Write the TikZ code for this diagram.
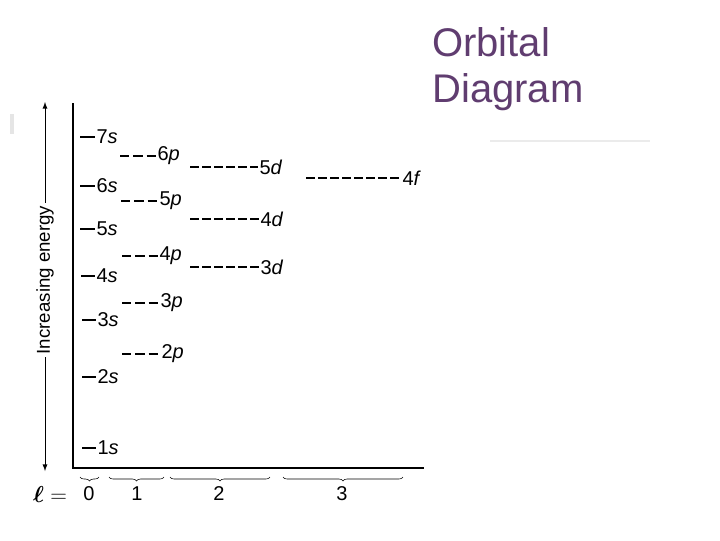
\documentclass[tikz,border=0pt]{standalone}
\usepackage{fontspec}
\setmainfont{Liberation Sans}
\usepackage{amsmath}
\usepackage{tikz}
\usetikzlibrary{arrows,decorations.pathreplacing}
\usepackage{xcolor}
\definecolor{titlepurple}{RGB}{96,61,112}

\begin{document}
\begin{tikzpicture}[x=0.75pt, y=-0.75pt, lvl/.style={anchor=west, inner sep=1pt, font=\fontsize{15}{17}\selectfont}, sline/.style={line width=1.1pt}, pline/.style={line width=1.1pt, dash pattern=on 7pt off 3pt}, dline/.style={line width=1.1pt, dash pattern=on 6.6pt off 2.4pt}, lnum/.style={font=\fontsize{15}{17}\selectfont}, bracestyle/.style={decorate, decoration={brace, mirror, amplitude=3pt}, thin}]
\useasboundingbox (0,0) rectangle (720,540);
% title
\node[anchor=base west, inner sep=0pt, text=titlepurple, font=\fontsize{30}{34}\selectfont] (t1) at (432,56) {Orbital};
\node[anchor=base west, inner sep=0pt, text=titlepurple, font=\fontsize{30}{34}\selectfont] (t2) at (432,102) {Diagram};
\draw[black!8, line width=2pt] (490,141) -- (650,141);
\draw[black!10, line width=3pt] (12,114) -- (12,134);
% axes
\coordinate (o) at (73,468);
\coordinate (top) at (73,103);
\coordinate (right) at (424,468);
\draw[line width=0.9pt] (top) -- (o) -- (right);
% energy arrow
\node[lnum, rotate=90, inner sep=2pt, font=\fontsize{14}{16}\selectfont] (en) at (45,280) {Increasing energy};
\coordinate (up) at (45,102);
\coordinate (down) at (45,471);
\draw[-latex, line width=0.7pt] (en.east) -- (up);
\draw[-latex, line width=0.7pt] (en.west) -- (down);
% s levels
\node[lvl] (s7) at (95,137) {7\textit{s}};
\node[lvl] (s6) at (95,186) {6\textit{s}};
\node[lvl] (s5) at (95,229) {5\textit{s}};
\node[lvl] (s4) at (95,276) {4\textit{s}};
\node[lvl] (s3) at (96,320) {3\textit{s}};
\node[lvl] (s2) at (96,377) {2\textit{s}};
\node[lvl] (s1) at (96,448) {1\textit{s}};
\coordinate (s7a) at (80,137);
\coordinate (s6a) at (80,186);
\coordinate (s5a) at (80,229);
\coordinate (s4a) at (81,276);
\coordinate (s3a) at (82,320);
\coordinate (s2a) at (82,377);
\coordinate (s1a) at (82,448);
\path[sline]
(s7a) edge (s7.west)
(s6a) edge (s6.west)
(s5a) edge (s5.west)
(s4a) edge (s4.west)
(s3a) edge (s3.west)
(s2a) edge (s2.west)
(s1a) edge (s1.west);
% p levels
\node[lvl] (p6) at (156,156) {6\textit{p}};
\node[lvl] (p5) at (158,201) {5\textit{p}};
\node[lvl] (p4) at (158,256) {4\textit{p}};
\node[lvl] (p3) at (159,303) {3\textit{p}};
\node[lvl] (p2) at (160,354) {2\textit{p}};
\coordinate (p6a) at (120,156);
\coordinate (p5a) at (121,201);
\coordinate (p4a) at (122,256);
\coordinate (p3a) at (122,303);
\coordinate (p2a) at (122,354);
\path[pline]
(p6a) edge (p6.west)
(p5a) edge (p5.west)
(p4a) edge (p4.west)
(p3a) edge (p3.west)
(p2a) edge (p2.west);
% d and f levels
\node[lvl] (d5) at (258,167) {5\textit{d}};
\node[lvl] (d4) at (259,219) {4\textit{d}};
\node[lvl] (d3) at (259,267) {3\textit{d}};
\node[lvl] (f4) at (401,178) {4\textit{f}};
\coordinate (d5a) at (190,167);
\coordinate (d4a) at (190,219);
\coordinate (d3a) at (190,267);
\coordinate (f4a) at (306,178);
\path[dline]
(d5a) edge (d5.west)
(d4a) edge (d4.west)
(d3a) edge (d3.west)
(f4a) edge (f4.west);
% l values
\node[lnum, font=\fontsize{17}{19}\selectfont] (l) at (50,494) {$\boldsymbol{\ell}=$};
\node[lnum] (l0) at (89,494) {0};
\node[lnum] (l1) at (137,494) {1};
\node[lnum] (l2) at (219,494) {2};
\node[lnum] (l3) at (342,494) {3};
\draw[bracestyle] (80,477) -- (99,477);
\draw[bracestyle] (109,477) -- (164,477);
\draw[bracestyle] (170,477) -- (270,477);
\draw[bracestyle] (283,477) -- (403,477);
\end{tikzpicture}
\end{document}
